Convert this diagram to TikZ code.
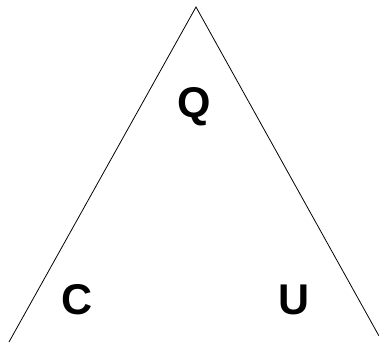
\documentclass[tikz,border=0pt]{standalone}
\usepackage{fontspec}
\setmainfont{Liberation Sans}
\begin{document}
\begin{tikzpicture}[x=1pt,y=1pt,
  lbl/.style={font=\fontsize{43}{43}\selectfont\bfseries, inner sep=0pt},
  edge/.style={draw=black, line width=0.8pt}]
\useasboundingbox (0,0) rectangle (379,343);
\coordinate (apex) at (196,336);
\coordinate (bl) at (9,1);
\coordinate (br) at (379,7);
\draw[edge] (bl) -- (apex) -- (br);
\node[lbl] (q) at (194,236) {Q};
\node[lbl] (c) at (77,43) {C};
\node[lbl] (u) at (294,43) {U};
\end{tikzpicture}
\end{document}
